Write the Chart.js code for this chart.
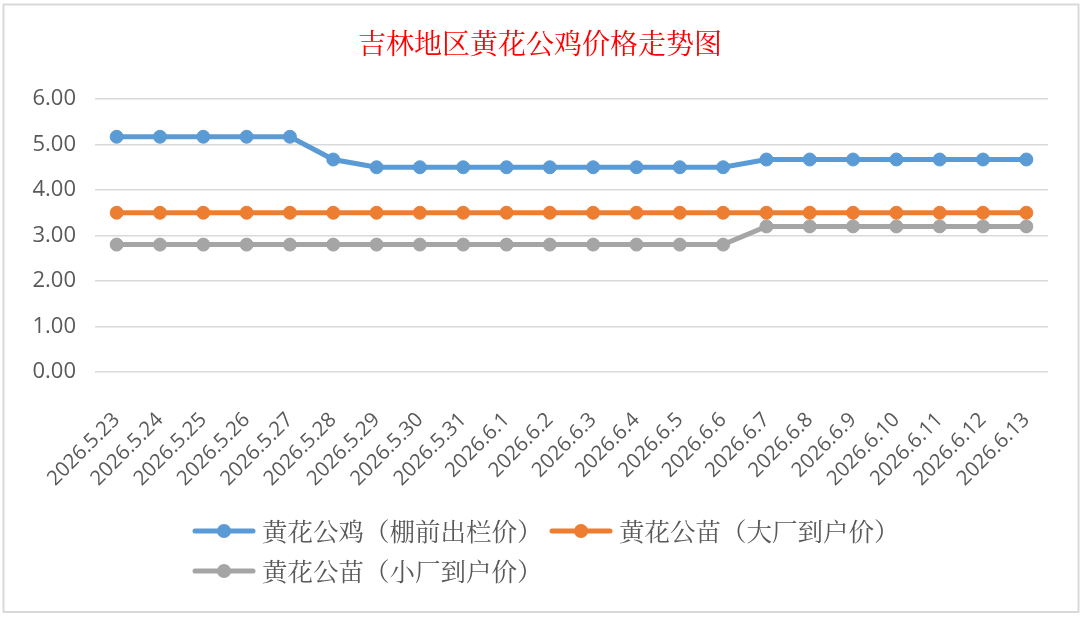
<!DOCTYPE html>
<html><head><meta charset="utf-8">
<script src="https://cdn.jsdelivr.net/npm/chart.js@4"></script>
<style>html,body{margin:0;padding:0;background:#fff;}#wrap{width:1083px;height:617px;position:relative;}</style>
</head><body><div id="wrap"><canvas id="c" width="1083" height="617"></canvas></div>
<script>
const titleText = "吉林地区黄花公鸡价格走势图";
const dates = ["2026.5.23","2026.5.24","2026.5.25","2026.5.26","2026.5.27","2026.5.28","2026.5.29","2026.5.30","2026.5.31","2026.6.1","2026.6.2","2026.6.3","2026.6.4","2026.6.5","2026.6.6","2026.6.7","2026.6.8","2026.6.9","2026.6.10","2026.6.11","2026.6.12","2026.6.13"];
const seriesNames = ["黄花公鸡（棚前出栏价）","黄花公苗（大厂到户价）","黄花公苗（小厂到户价）"];
const roosterPrice = [5.17,5.17,5.17,5.17,5.17,4.67,4.50,4.50,4.50,4.50,4.50,4.50,4.50,4.50,4.50,4.67,4.67,4.67,4.67,4.67,4.67,4.67];
const chickBigFactory = [3.50,3.50,3.50,3.50,3.50,3.50,3.50,3.50,3.50,3.50,3.50,3.50,3.50,3.50,3.50,3.50,3.50,3.50,3.50,3.50,3.50,3.50];
const chickSmallFactory = [2.80,2.80,2.80,2.80,2.80,2.80,2.80,2.80,2.80,2.80,2.80,2.80,2.80,2.80,2.80,3.20,3.20,3.20,3.20,3.20,3.20,3.20];
const colors = ["#5B9BD5","#ED7D31","#A5A5A5"];

const textColor = "#595959";
const cjk = '"Noto Serif CJK SC","Noto Sans CJK SC",sans-serif';

const decor = {
  id: "decor",
  afterDraw(chart) {
    const ctx = chart.ctx;
    ctx.save();
    ctx.strokeStyle = "#d9d9d9";
    ctx.lineWidth = 2;
    ctx.strokeRect(3.5, 4.5, 1075, 607.5);
    ctx.fillStyle = "#FF0000";
    ctx.font = "28px " + cjk;
    ctx.textAlign = "center";
    ctx.textBaseline = "middle";
    ctx.fillText(titleText, 540, 43);
    const items = [
      {x: 193, y: 531},
      {x: 550, y: 531},
      {x: 193, y: 571}
    ];
    chart.data.datasets.forEach((ds, i) => {
      const it = items[i];
      ctx.strokeStyle = ds.borderColor;
      ctx.lineWidth = 5;
      ctx.lineCap = "round";
      ctx.beginPath();
      ctx.moveTo(it.x + 2, it.y);
      ctx.lineTo(it.x + 60, it.y);
      ctx.stroke();
      ctx.fillStyle = ds.borderColor;
      ctx.beginPath();
      ctx.arc(it.x + 31, it.y, 7, 0, Math.PI * 2);
      ctx.fill();
      ctx.fillStyle = textColor;
      ctx.font = "25.5px " + cjk;
      ctx.textAlign = "left";
      ctx.textBaseline = "middle";
      ctx.fillText(ds.label, it.x + 69, it.y);
    });
    ctx.restore();
  }
};

const mk = (label, data, color) => ({
  label, data,
  borderColor: color, backgroundColor: color,
  borderWidth: 5, pointRadius: 6.5, pointBorderWidth: 1,
  pointBackgroundColor: color, pointBorderColor: color,
  tension: 0, fill: false
});

new Chart(document.getElementById("c"), {
  type: "line",
  data: {
    labels: dates,
    datasets: [
      mk(seriesNames[0], roosterPrice, colors[0]),
      mk(seriesNames[1], chickBigFactory, colors[1]),
      mk(seriesNames[2], chickSmallFactory, colors[2])
    ]
  },
  options: {
    responsive: false,
    animation: false,
    devicePixelRatio: 1,
    layout: {padding: {top: 99, right: 35, bottom: 5, left: 0}},
    plugins: {legend: {display: false}, title: {display: false}, tooltip: {enabled: false}},
    scales: {
      x: {
        offset: true,
        grid: {display: false, drawTicks: false},
        border: {display: false},
        ticks: {
          color: textColor, font: {family: '"Open Sans"', size: 20.5},
          minRotation: 45, maxRotation: 45, autoSkip: false, padding: 36
        },
        afterFit(s) { s.height = 240; }
      },
      y: {
        min: 0, max: 6,
        grid: {color: "#d9d9d9", lineWidth: 1.5, drawTicks: false},
        border: {display: false},
        ticks: {
          stepSize: 1, color: textColor, font: {family: '"Open Sans"', size: 22},
          padding: 19, callback: v => Number(v).toFixed(2)
        },
        afterFit(s) { s.width = 95; }
      }
    }
  },
  plugins: [decor]
});
</script>
</body></html>
